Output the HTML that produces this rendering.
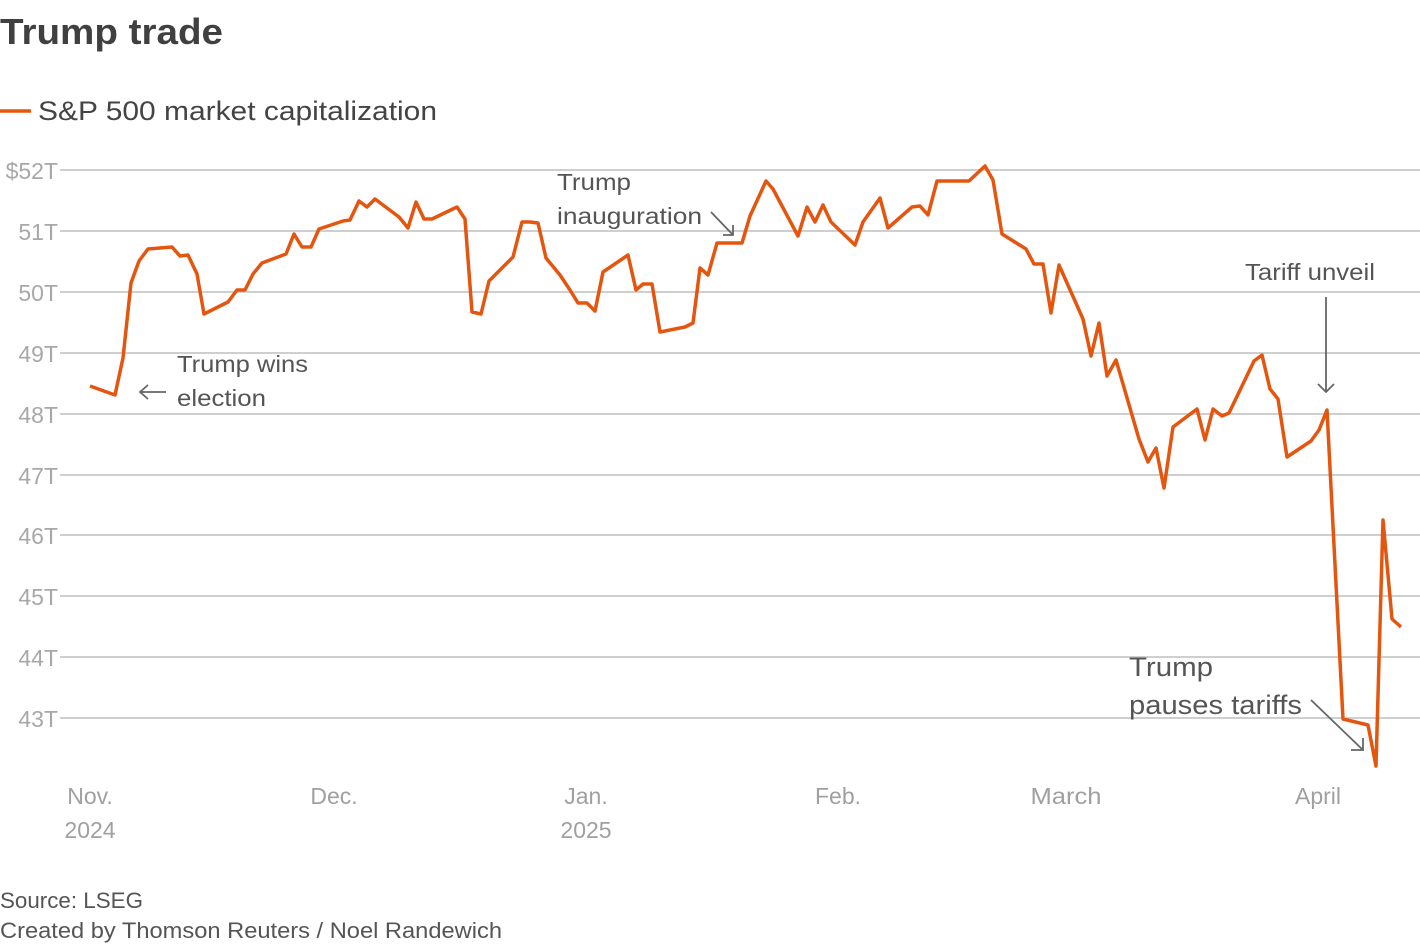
<!DOCTYPE html>
<html><head><meta charset="utf-8"><style>
html,body{margin:0;padding:0;background:#fff;}
svg{display:block;font-family:"Liberation Sans",sans-serif;}
</style></head><body>
<svg width="1420" height="944" viewBox="0 0 1420 944" xmlns="http://www.w3.org/2000/svg">
<text x="0" y="44" font-size="36" font-weight="bold" fill="#404040" textLength="223" lengthAdjust="spacingAndGlyphs">Trump trade</text>
<line x1="0" y1="111" x2="31" y2="111" stroke="#e4560f" stroke-width="3.5"/>
<text x="38" y="120" font-size="27" fill="#444" textLength="399" lengthAdjust="spacingAndGlyphs">S&amp;P 500 market capitalization</text>
<g stroke="#cfcfcf" stroke-width="2">
<line x1="60" y1="170" x2="1420" y2="170"/><line x1="60" y1="231" x2="1420" y2="231"/>
<line x1="60" y1="292" x2="1420" y2="292"/><line x1="60" y1="353" x2="1420" y2="353"/>
<line x1="60" y1="414" x2="1420" y2="414"/><line x1="60" y1="475" x2="1420" y2="475"/>
<line x1="60" y1="535" x2="1420" y2="535"/><line x1="60" y1="596" x2="1420" y2="596"/>
<line x1="60" y1="657" x2="1420" y2="657"/><line x1="60" y1="718" x2="1420" y2="718"/>
</g>
<g font-size="23" fill="#a8a8a8" text-anchor="end">
<text x="58" y="179">$52T</text><text x="58" y="240">51T</text><text x="58" y="301">50T</text>
<text x="58" y="362">49T</text><text x="58" y="423">48T</text><text x="58" y="484">47T</text>
<text x="58" y="544">46T</text><text x="58" y="605">45T</text><text x="58" y="666">44T</text>
<text x="58" y="727">43T</text>
</g>
<g font-size="23" fill="#a0a0a0" text-anchor="middle">
<text x="90" y="804">Nov.</text><text x="90" y="838">2024</text>
<text x="334" y="804">Dec.</text>
<text x="586" y="804">Jan.</text><text x="586" y="838">2025</text>
<text x="838" y="804">Feb.</text>
<text x="1066" y="804" textLength="71" lengthAdjust="spacingAndGlyphs">March</text>
<text x="1318" y="804">April</text>
</g>
<polyline fill="none" stroke="#e4560f" stroke-width="3.5" stroke-linejoin="round" points="
90,386 115,395 123,358 131,283 139,261 148,249 172,247 180,256 188,255 197,274 204,314 228,302 237,290 245,290 253,274 262,263 286,254 294,234 302,247 311,247 319,229 343,221 350,220 359,201 367,207 375,199 399,217 408,228 416,202 424,219 432,219 457,207 465,219 472,312 481,314 489,281 513,257 522,222 530,222 538,223 546,258 560,275
570,290 578,303 587,303 595,311 603,272 628,255 636,290 643,284 652,284 660,332 685,327 693,323 700,268 708,275 717,243 742,243 750,216 766,181 773,189 798,236 807,207 815,222 823,205 831,222 855,245 863,222 880,198 888,228 912,207 920,206 928,215 937,181 969,181 985,166 993,180 1002,234 1026,249 1034,264 1043,264
1051,313 1059,265 1083,319 1091,356 1099,323 1107,376 1116,360 1139,439 1148,462 1156,448 1164,488 1173,427 1197,409 1205,440 1213,409 1222,416 1229,413 1254,361 1262,355 1270,389 1278,399 1287,457 1311,441 1319,430 1327,410 1343,719 1368,725 1376,766 1383,520 1392,619 1401,627"/>
<g font-size="23" fill="#555">
<text x="177" y="372" textLength="131" lengthAdjust="spacingAndGlyphs">Trump wins</text><text x="177" y="406" textLength="89" lengthAdjust="spacingAndGlyphs">election</text>
<text x="557" y="190" textLength="74" lengthAdjust="spacingAndGlyphs">Trump</text><text x="557" y="224" textLength="145" lengthAdjust="spacingAndGlyphs">inauguration</text>
<text x="1245" y="280" textLength="130" lengthAdjust="spacingAndGlyphs">Tariff unveil</text>
<text x="1129" y="676" font-size="27" textLength="84" lengthAdjust="spacingAndGlyphs">Trump</text><text x="1129" y="714" font-size="27" textLength="173" lengthAdjust="spacingAndGlyphs">pauses tariffs</text>
<text x="0" y="908" font-size="22" textLength="143" lengthAdjust="spacingAndGlyphs">Source: LSEG</text>
<text x="0" y="938" font-size="22" textLength="502" lengthAdjust="spacingAndGlyphs">Created by Thomson Reuters / Noel Randewich</text>
</g>
<g stroke="#666" stroke-width="1.8" fill="none">
<path d="M166,392 H140 M148,385 L140,392 L148,399"/>
<path d="M711,212 L733,235 M733,225 V235 H723"/>
<path d="M1326,297 V392 M1318,384 L1326,392 L1334,384"/>
<path d="M1311,700 L1363,750 M1363,738 V750 H1351"/>
</g>
</svg>
</body></html>
